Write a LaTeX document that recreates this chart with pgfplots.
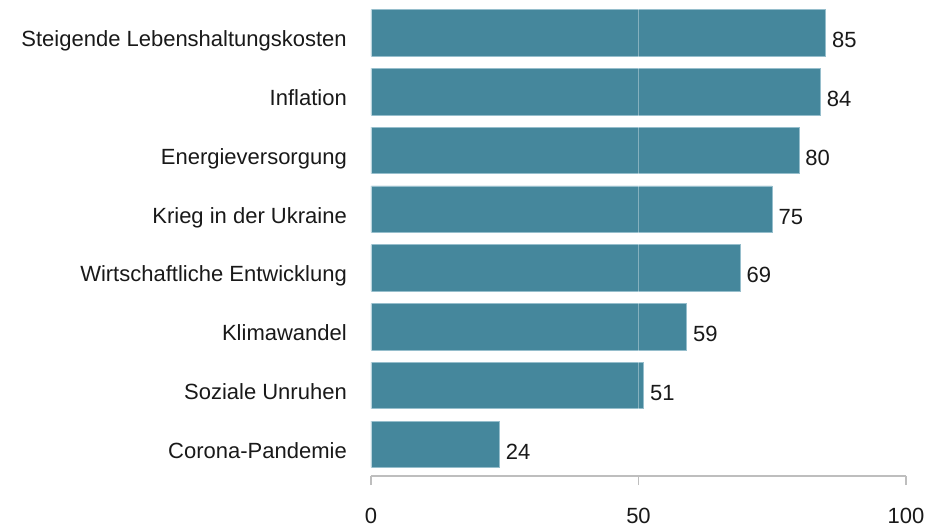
\documentclass[border=0pt]{standalone}
\usepackage{fontspec}
\setmainfont{Liberation Sans}
\usepackage{pgfplots}
\pgfplotsset{compat=1.18}
\definecolor{barfill}{RGB}{69,135,156}
\definecolor{barline}{RGB}{150,190,204}
\definecolor{axgray}{RGB}{190,190,190}
\definecolor{txt}{RGB}{25,25,25}
\begin{document}
\fontsize{22}{26}\selectfont
\begin{tikzpicture}
\path[use as bounding box] (-371pt,-52pt) rectangle (556pt,476pt);
\begin{axis}[
  at={(0pt,0pt)}, anchor=south west,
  scale only axis, width=535pt, height=476pt,
  xmin=0, xmax=100, ymin=-0.54, ymax=7.56,
  xbar, bar width=0.79,
  axis on top,
  separate axis lines,
  axis x line*=bottom, axis y line*=left,
  x axis line style={draw=axgray, line width=1.5pt, -},
  y axis line style={draw=none},
  xtick={0,50,100},
  ytick={0,...,7},
  yticklabels={Corona-Pandemie, Soziale Unruhen, Klimawandel, Wirtschaftliche Entwicklung, Krieg in der Ukraine, Energieversorgung, Inflation, Steigende Lebenshaltungskosten},
  tick align=outside,
  major tick length=9pt,
  xtick style={draw=axgray, line width=1.5pt},
  ytick style={draw=none},
  xmajorgrids,
  major x grid style={draw=white, opacity=0.35, line width=1.2pt},
  /pgf/number format/assume math mode=true,
  tick label style={font=\fontsize{22}{26}\selectfont, text=txt, inner sep=0pt},
  xticklabel style={anchor=north, yshift=-23pt},
  yticklabel style={anchor=base east, xshift=-15pt, yshift=-14pt},
  nodes near coords,
  every node near coord/.append style={font=\fontsize{22}{26}\selectfont, text=txt, anchor=base west, inner sep=0pt, xshift=6pt, yshift=-15pt},
]
\addplot[fill=barfill, draw=barline, line width=0.75pt] coordinates {
 (24,0) (51,1) (59,2) (69,3) (75,4) (80,5) (84,6) (85,7)
};
\end{axis}
\end{tikzpicture}
\end{document}
